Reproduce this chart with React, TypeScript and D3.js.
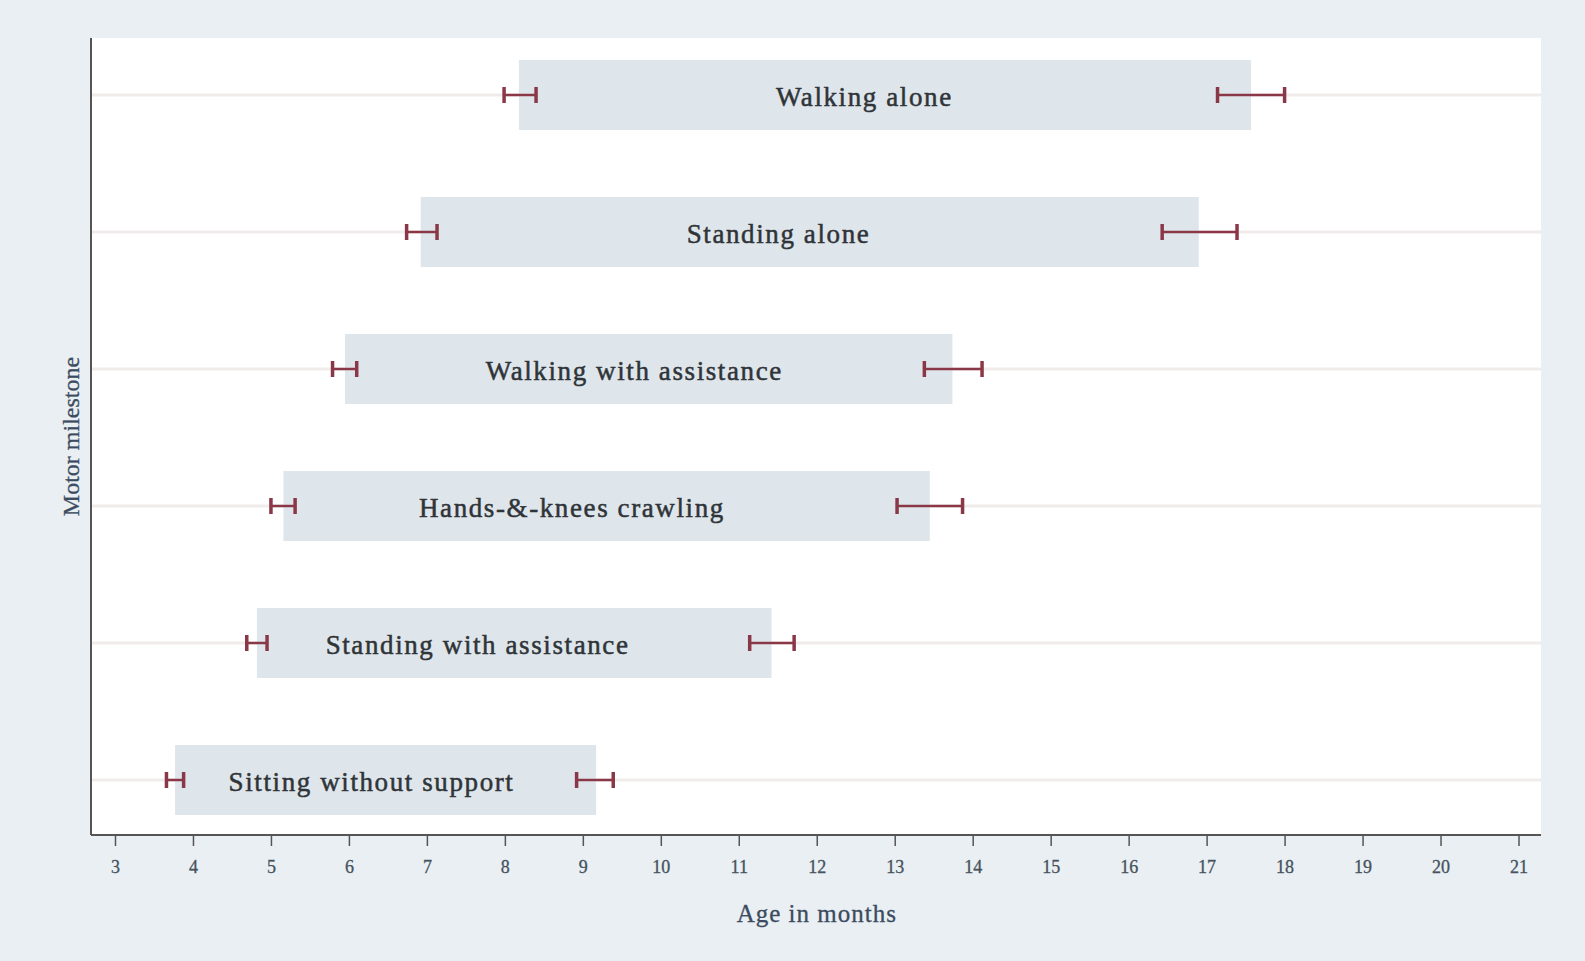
import { useEffect, useRef } from 'react';
import * as d3 from 'd3';

// bottom to top
const milestones = [
  'Sitting without support',
  'Standing with assistance',
  'Hands-&-knees crawling',
  'Walking with assistance',
  'Standing alone',
  'Walking alone',
];
const barStart = [3.77, 4.82, 5.16, 5.95, 6.92, 8.18];
const barEnd = [9.17, 11.42, 13.45, 13.74, 16.9, 17.57];
const lowCiFrom = [3.66, 4.69, 5.0, 5.79, 6.74, 7.99];
const lowCiTo = [3.88, 4.95, 5.31, 6.1, 7.13, 8.4];
const highCiFrom = [8.92, 11.14, 13.03, 13.38, 16.43, 17.14];
const highCiTo = [9.39, 11.71, 13.87, 14.12, 17.39, 18.0];
const labelAt = [6.29, 7.65, 8.86, 9.66, 11.51, 12.61];
const ticks = d3.range(3, 22);

const W = 1585, H = 961;
const LEFT = 91, RIGHT = 1541, TOP = 38, BOTTOM = 835;

export default function App() {
  const svgRef = useRef<SVGSVGElement>(null);

  useEffect(() => {
    const svg = d3.select(svgRef.current);
    svg.selectAll('*').remove();

    const x = d3.scaleLinear().domain([3, 21]).range([115, 1518.5]);
    const y = d3.scalePoint<string>().domain(milestones).range([780, 95]);
    const barH = 70;
    const errColor = '#8a3848';

    svg.append('rect').attr('width', W).attr('height', H).attr('fill', '#e9eff2');
    svg.append('rect')
      .attr('x', LEFT).attr('y', TOP)
      .attr('width', RIGHT - LEFT).attr('height', BOTTOM - TOP)
      .attr('fill', '#ffffff');

    const data = milestones.map((m, i) => ({
      m, s: barStart[i], e: barEnd[i],
      l0: lowCiFrom[i], l1: lowCiTo[i], h0: highCiFrom[i], h1: highCiTo[i],
      lab: labelAt[i],
    }));

    // grid lines
    svg.append('g').selectAll('line').data(data).join('line')
      .attr('x1', LEFT).attr('x2', RIGHT)
      .attr('y1', (d) => y(d.m)!).attr('y2', (d) => y(d.m)!)
      .attr('stroke', '#f1ecec').attr('stroke-width', 3);

    // bars
    svg.append('g').selectAll('rect').data(data).join('rect')
      .attr('x', (d) => x(d.s))
      .attr('width', (d) => x(d.e) - x(d.s))
      .attr('y', (d) => y(d.m)! - barH / 2)
      .attr('height', barH)
      .attr('fill', '#dfe6eb');

    // labels
    svg.append('g').selectAll('text').data(data).join('text')
      .attr('x', (d) => x(d.lab))
      .attr('y', (d) => y(d.m)! + 2)
      .attr('text-anchor', 'middle')
      .attr('dominant-baseline', 'central')
      .attr('font-family', '"Liberation Serif", "DejaVu Serif", serif')
      .attr('font-size', 27)
      .attr('letter-spacing', 1.6)
      .attr('fill', '#2f3438')
      .attr('stroke', '#2f3438')
      .attr('stroke-width', 0.5)
      .text((d) => d.m);

    // error bars
    const drawCi = (lo: (d: any) => number, hi: (d: any) => number) => {
      const g = svg.append('g').selectAll('g').data(data).join('g')
        .attr('stroke', errColor);
      g.append('line')
        .attr('x1', (d) => x(lo(d))).attr('x2', (d) => x(hi(d)))
        .attr('y1', (d) => y(d.m)!).attr('y2', (d) => y(d.m)!)
        .attr('stroke-width', 2.5);
      [lo, hi].forEach((f) => {
        g.append('line')
          .attr('x1', (d) => x(f(d))).attr('x2', (d) => x(f(d)))
          .attr('y1', (d) => y(d.m)! - 8).attr('y2', (d) => y(d.m)! + 8)
          .attr('stroke-width', 3.5);
      });
    };
    drawCi((d) => d.l0, (d) => d.l1);
    drawCi((d) => d.h0, (d) => d.h1);

    // axes
    svg.append('line')
      .attr('x1', LEFT).attr('x2', LEFT).attr('y1', TOP).attr('y2', BOTTOM)
      .attr('stroke', '#555').attr('stroke-width', 2);

    const xAxis = svg.append('g')
      .attr('transform', `translate(0,${BOTTOM})`)
      .call(d3.axisBottom(x).tickValues(ticks).tickSize(11).tickPadding(14).tickFormat(d3.format('d')));
    xAxis.select('.domain').attr('d', `M${LEFT},0H${RIGHT}`).attr('stroke', '#555').attr('stroke-width', 2);
    xAxis.selectAll('.tick line').attr('stroke', '#555').attr('stroke-width', 1.5);
    xAxis.selectAll('.tick text')
      .attr('font-family', '"Liberation Serif", serif')
      .attr('font-size', 18)
      .attr('fill', '#46525e')
      .attr('stroke', '#46525e')
      .attr('stroke-width', 0.3);

    svg.append('text')
      .attr('x', x(12)).attr('y', 913)
      .attr('text-anchor', 'middle').attr('dominant-baseline', 'central')
      .attr('font-family', '"Liberation Serif", serif')
      .attr('font-size', 25).attr('letter-spacing', 1)
      .attr('fill', '#3c4b5e')
      .attr('stroke', '#3c4b5e')
      .attr('stroke-width', 0.3)
      .text('Age in months');

    svg.append('text')
      .attr('transform', `translate(71,${(TOP + BOTTOM) / 2}) rotate(-90)`)
      .attr('text-anchor', 'middle').attr('dominant-baseline', 'central')
      .attr('font-family', '"Liberation Serif", serif')
      .attr('font-size', 24)
      .attr('fill', '#3c4b5e')
      .attr('stroke', '#3c4b5e')
      .attr('stroke-width', 0.3)
      .text('Motor milestone');
  }, []);

  return (
    <div style={{ position: 'fixed', left: 0, top: 0 }}>
      <svg ref={svgRef} width={W} height={H} style={{ display: 'block' }} />
    </div>
  );
}
